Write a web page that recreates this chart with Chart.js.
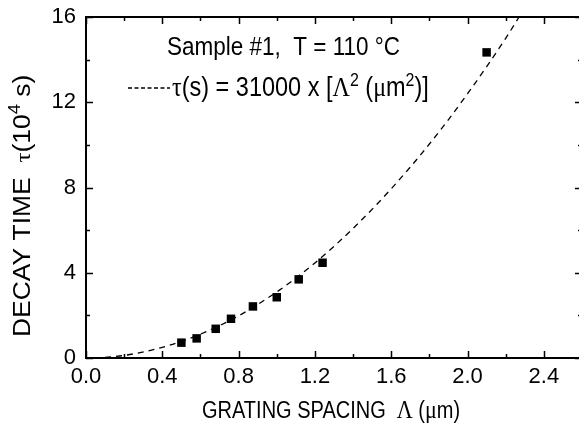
<!DOCTYPE html>
<html>
<head>
<meta charset="utf-8">
<script src="https://cdn.jsdelivr.net/npm/chart.js@4/dist/chart.umd.min.js"></script>
<style>
  html, body { margin: 0; padding: 0; background: #fff; overflow: hidden; }
  #wrap { width: 579px; height: 430px; overflow: hidden; }
</style>
</head>
<body>
<div id="wrap"><canvas id="decayChart" width="590" height="430"></canvas></div>
<script>
// measured decay times (10^4 s) vs grating spacing (um)
const spacing = [0.50, 0.58, 0.68, 0.76, 0.875, 1.00, 1.115, 1.24, 2.10];
const decayTime = [0.72, 0.92, 1.37, 1.84, 2.42, 2.85, 3.69, 4.47, 14.34];

// dashed fit curve
const fitSpacing = [0.10, 0.20, 0.40, 0.60, 0.80, 1.00, 1.20, 1.40, 1.60, 1.80, 2.00, 2.20, 2.27];
const fitTime = [0.03, 0.12, 0.50, 1.12, 1.98, 3.10, 4.46, 6.08, 7.94, 10.04, 12.40, 15.00, 16.00];

const xLabelTicks = [0.0, 0.4, 0.8, 1.2, 1.6, 2.0, 2.4];
const yLabelTicks = [0, 4, 8, 12, 16];

const SANS = 'Liberation Sans, Arial, sans-serif';
const SERIF = 'Liberation Serif, Times New Roman, serif';
const STRETCH = 1.15; // the scanned lettering is a bit taller than it is wide

const toXY = (xs, ys) => xs.map((x, i) => ({ x: x, y: ys[i] }));

// draws a list of [text, font, raise] runs one after another
function drawRuns(ctx, runs, x, y) {
  runs.forEach(r => {
    ctx.font = r[1];
    ctx.fillText(r[0], x, y - (r[2] || 0));
    x += ctx.measureText(r[0]).width;
  });
}

function drawStretched(ctx, runs, x, y, angle) {
  ctx.save();
  ctx.translate(x, y);
  ctx.scale(1, STRETCH);
  if (angle) ctx.rotate(angle);
  drawRuns(ctx, runs, 0, 0);
  ctx.restore();
}

const framePlugin = {
  id: 'frame',
  afterDatasetsDraw(chart) {
    const ctx = chart.ctx;
    const a = chart.chartArea;
    const xs = chart.scales.x, ys = chart.scales.y;
    ctx.save();
    ctx.strokeStyle = '#000';
    ctx.lineWidth = 2;
    ctx.strokeRect(a.left, a.top, a.right - a.left, a.bottom - a.top);
    ctx.lineWidth = 1.5;
    ctx.beginPath();
    xs.ticks.forEach(t => {
      const px = Math.round(xs.getPixelForValue(t.value)) + 0.5;
      const len = t.label !== '' ? 7 : 4;
      ctx.moveTo(px, a.bottom); ctx.lineTo(px, a.bottom - len);
      ctx.moveTo(px, a.top); ctx.lineTo(px, a.top + len);
    });
    ys.ticks.forEach(t => {
      const py = Math.round(ys.getPixelForValue(t.value)) + 0.5;
      const len = t.label !== '' ? 7 : 4;
      ctx.moveTo(a.left, py); ctx.lineTo(a.left + len, py);
      ctx.moveTo(a.right, py); ctx.lineTo(a.right - len, py);
    });
    ctx.stroke();
    ctx.restore();
  },
  afterDraw(chart) {
    const ctx = chart.ctx;
    ctx.save();
    ctx.fillStyle = '#000';
    ctx.textBaseline = 'alphabetic';
    ctx.textAlign = 'left';

    drawStretched(ctx, [['Sample #1,  T = 110 °C', '22.5px ' + SANS]], 167, 55);

    // legend entry
    ctx.strokeStyle = '#000';
    ctx.lineWidth = 1.3;
    ctx.setLineDash([4, 2.5]);
    ctx.beginPath();
    ctx.moveTo(128, 88); ctx.lineTo(170, 88);
    ctx.stroke();
    ctx.setLineDash([]);
    drawStretched(ctx, [
      ['\u03C4', '24px ' + SERIF],
      ['(s) = 31000 x [', '23.5px ' + SANS],
      ['\u039B', '24px ' + SERIF],
      ['2', '16px ' + SANS, 9],
      [' (', '23.5px ' + SANS],
      ['\u03BC', '24px ' + SERIF],
      ['m', '23.5px ' + SANS],
      ['2', '16px ' + SANS, 9],
      [')]', '23.5px ' + SANS]
    ], 172, 96);

    // x title
    drawStretched(ctx, [
      ['GRATING SPACING  ', '20px ' + SANS],
      ['\u039B', '22px ' + SERIF],
      [' (', '20px ' + SANS],
      ['\u03BC', '22px ' + SERIF],
      ['m)', '20px ' + SANS]
    ], 202, 418);

    // y title
    drawStretched(ctx, [
      ['DECAY TIME  ', '23px ' + SANS],
      ['\u03C4', '22px ' + SERIF],
      ['(10', '23px ' + SANS],
      ['4', '16px ' + SANS, 10],
      [' s)', '23px ' + SANS]
    ], 30, 337, -Math.PI / 2);
    ctx.restore();
  }
};

const ctx = document.getElementById('decayChart').getContext('2d');

window.decayChart = new Chart(ctx, {
  type: 'scatter',
  data: {
    datasets: [
      {
        label: 'fit',
        data: toXY(fitSpacing, fitTime),
        showLine: true,
        borderColor: '#000',
        borderWidth: 1.3,
        borderDash: [6, 5],
        pointRadius: 0,
        cubicInterpolationMode: 'monotone',
        fill: false
      },
      {
        label: 'Sample #1',
        data: toXY(spacing, decayTime),
        pointStyle: 'rect',
        pointRadius: 6,
        backgroundColor: '#000',
        borderColor: '#000',
        borderWidth: 0
      }
    ]
  },
  options: {
    responsive: false,
    animation: false,
    events: [],
    layout: { padding: { top: 17, right: 8, left: 0, bottom: 0 } },
    plugins: {
      legend: { display: false },
      tooltip: { enabled: false }
    },
    scales: {
      x: {
        type: 'linear',
        min: 0,
        max: 2.6,
        grid: { display: false, drawTicks: false },
        border: { display: false },
        afterFit: s => { s.height = 72; },
        ticks: {
          stepSize: 0.2,
          padding: 6,
          color: '#000',
          font: { family: SANS, size: 22 },
          maxRotation: 0,
          autoSkip: false,
          callback: v => {
            const r = Math.round(v * 10) / 10;
            return xLabelTicks.some(t => Math.abs(t - r) < 1e-6) ? r.toFixed(1) : '';
          }
        }
      },
      y: {
        type: 'linear',
        min: 0,
        max: 16,
        grid: { display: false, drawTicks: false },
        border: { display: false },
        afterFit: s => { s.width = 86; },
        ticks: {
          stepSize: 2,
          padding: 10,
          color: '#000',
          font: { family: SANS, size: 22, lineHeight: 0.5 },
          autoSkip: false,
          callback: v => (yLabelTicks.includes(Math.round(v)) ? String(Math.round(v)) : '')
        }
      }
    }
  },
  plugins: [framePlugin]
});
</script>
</body>
</html>
